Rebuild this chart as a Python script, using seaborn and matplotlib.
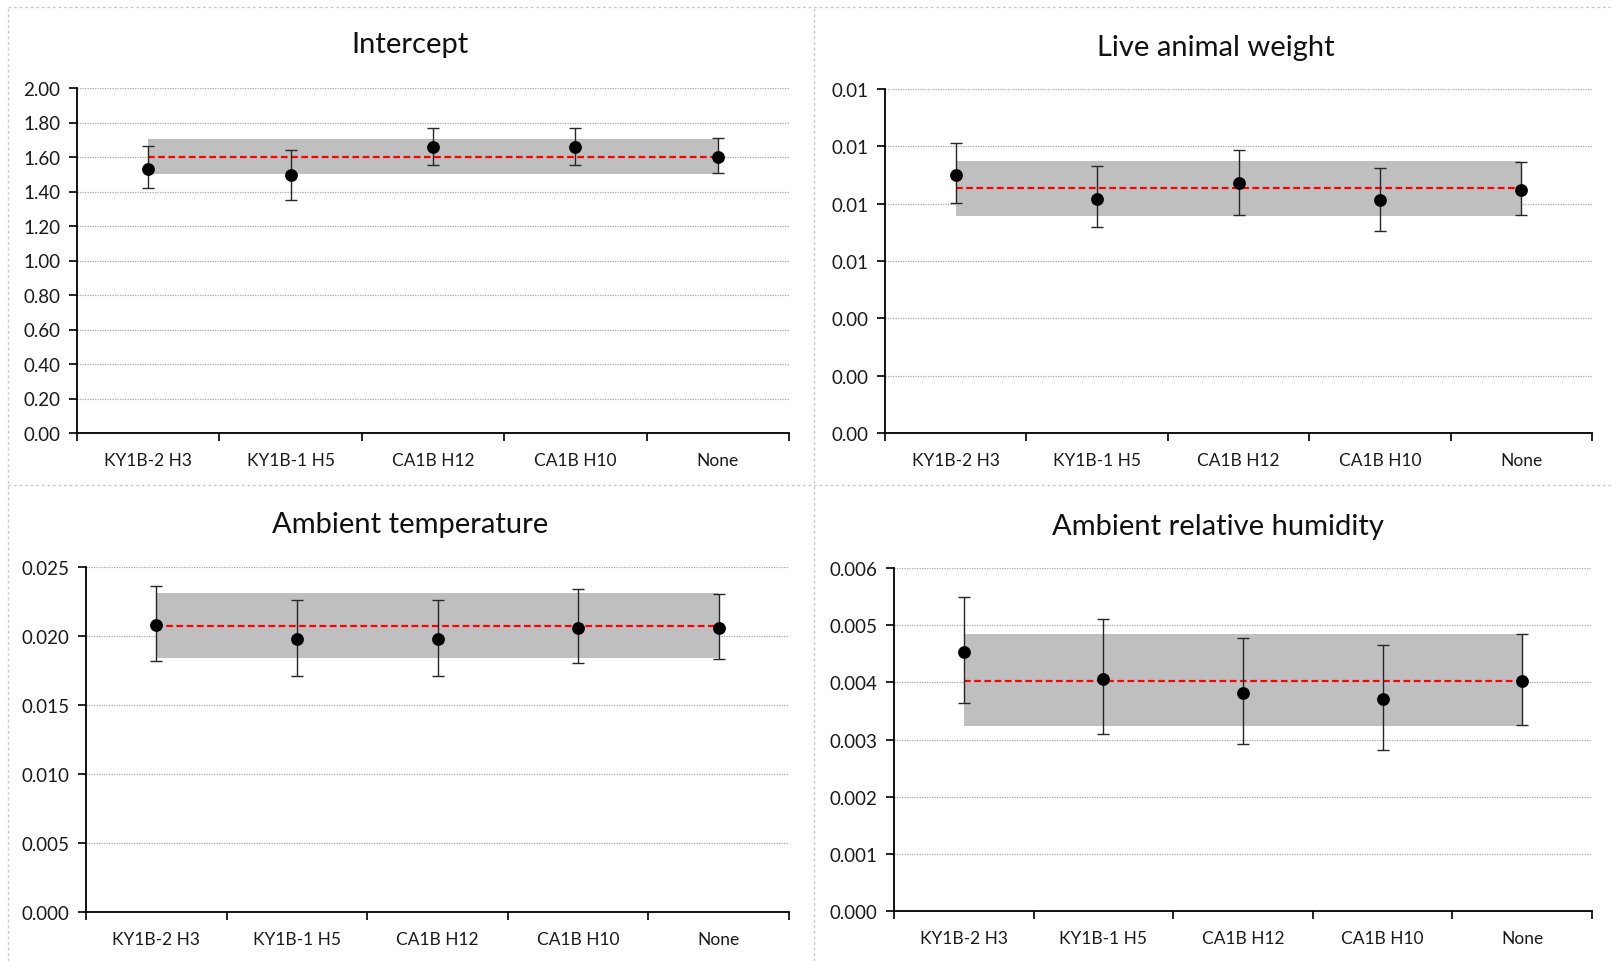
import matplotlib
matplotlib.use("Agg")
import matplotlib.pyplot as plt
import seaborn as sns
import numpy as np
import pandas as pd
from matplotlib.ticker import FormatStrFormatter, FixedLocator, MultipleLocator
from matplotlib.lines import Line2D

sns.set_theme(style="white")
plt.rcParams['font.family'] = ['Lato', 'DejaVu Sans']

categories = ["KY1B-2 H3", "KY1B-1 H5", "CA1B H12", "CA1B H10", "None"]

# Intercept
int_est = [1.533, 1.493, 1.659, 1.659, 1.601]
int_lo = [1.418, 1.350, 1.554, 1.554, 1.506]
int_hi = [1.663, 1.641, 1.769, 1.769, 1.709]
int_mean, int_band = 1.601, (1.502, 1.703)

# Live animal weight
wt_est = [0.00899, 0.00818, 0.00871, 0.00812, 0.00848]
wt_lo = [0.00802, 0.00719, 0.00760, 0.00703, 0.00760]
wt_hi = [0.01011, 0.00930, 0.00988, 0.00924, 0.00947]
wt_mean, wt_band = 0.00853, (0.00758, 0.00950)

# Ambient temperature
tp_est = [0.02083, 0.01975, 0.01975, 0.02059, 0.02059]
tp_lo = [0.01818, 0.01710, 0.01710, 0.01806, 0.01830]
tp_hi = [0.02365, 0.02259, 0.02259, 0.02341, 0.02305]
tp_mean, tp_band = 0.02071, (0.01840, 0.02310)

# Ambient relative humidity
rh_est = [0.00453, 0.00406, 0.00382, 0.00371, 0.00403]
rh_lo = [0.00363, 0.00310, 0.00293, 0.00281, 0.00325]
rh_hi = [0.00550, 0.00510, 0.00477, 0.00465, 0.00485]
rh_mean, rh_band = 0.00403, (0.00324, 0.00484)

panels = [
    ("Intercept", int_est, int_lo, int_hi, int_mean, int_band, (0, 2.0), 0.2, "%.2f"),
    ("Live animal weight", wt_est, wt_lo, wt_hi, wt_mean, wt_band, (0, 0.012), 0.002, "%.2f"),
    ("Ambient temperature", tp_est, tp_lo, tp_hi, tp_mean, tp_band, (0, 0.025), 0.005, "%.3f"),
    ("Ambient relative humidity", rh_est, rh_lo, rh_hi, rh_mean, rh_band, (0, 0.006), 0.001, "%.3f"),
]

W, H = 1611, 962
fig = plt.figure(figsize=(W / 100, H / 100), dpi=100)
fig.patch.set_facecolor("white")

# axes boxes in pixels: left, top, right, bottom
boxes = [
    (77, 89, 789, 434),
    (885, 90, 1592, 434),
    (86, 568, 789, 913),
    (894, 569, 1592, 912),
]
title_y = [45, 48, 525, 527]
title_x = [410, 1216, 410, 1218]

for (title, est, lo, hi, mean, band, ylim, step, fmt), (l, t, r, b), ty, tx in zip(panels, boxes, title_y, title_x):
    ax = fig.add_axes([l / W, 1 - b / H, (r - l) / W, (b - t) / H])
    df = pd.DataFrame({"cat": categories, "est": est, "lo": lo, "hi": hi})
    xpos = np.arange(len(categories))
    ax.fill_between([xpos[0], xpos[-1]], band[0], band[1], color="#bfbfbf", zorder=1, linewidth=0)
    ax.plot([xpos[0], xpos[-1]], [mean, mean], color="#ff0000", linestyle=(0, (3, 1.6)), linewidth=1.6, zorder=2)
    ax.errorbar(xpos, df["est"], yerr=[df["est"] - df["lo"], df["hi"] - df["est"]],
                fmt="none", ecolor="#262626", elinewidth=1.0, capsize=4, capthick=1.0, zorder=3)
    sns.scatterplot(data=df, x=xpos, y="est", ax=ax, color="black", s=85, edgecolor="black",
                    linewidth=0, zorder=4, legend=False)
    ax.set_xlim(-0.5, len(categories) - 0.5)
    ax.set_ylim(*ylim)
    ax.set_xticks(xpos)
    ax.set_xticklabels(categories)
    ax.xaxis.set_minor_locator(FixedLocator(np.arange(-0.5, len(categories), 1.0)))
    ax.yaxis.set_major_locator(MultipleLocator(step))
    ax.yaxis.set_major_formatter(FormatStrFormatter(fmt))
    ax.tick_params(axis="x", which="major", length=0, pad=14, labelsize=12.5, colors="#1a1a1a")
    ax.tick_params(axis="x", which="minor", length=6, width=1.2, color="black", direction="out", bottom=True)
    ax.tick_params(axis="y", which="major", length=6, width=1.2, color="black", direction="out", left=True,
                   labelsize=13.5, pad=6, labelcolor="#1a1a1a")
    ax.grid(axis="y", color="#a6a6a6", linestyle=(0, (1, 1)), linewidth=0.9)
    ax.set_axisbelow(True)
    for s in ["top", "right"]:
        ax.spines[s].set_visible(False)
    for s in ["left", "bottom"]:
        ax.spines[s].set_color("black")
        ax.spines[s].set_linewidth(1.3)
    ax.set_xlabel("")
    ax.set_ylabel("")
    fig.text(tx / W, 1 - ty / H, title, ha="center", va="center", fontsize=21, color="#111111")

# panel borders
bc = "#c8c8c8"
ls = (0, (2, 2))
for x in [8, 814]:
    fig.add_artist(Line2D([x / W, x / W], [0, 1 - 8 / H], transform=fig.transFigure, color=bc, lw=1, ls=ls))
for y in [8, 486]:
    fig.add_artist(Line2D([8 / W, 1], [1 - y / H, 1 - y / H], transform=fig.transFigure, color=bc, lw=1, ls=ls))

fig.savefig("out.png", dpi=100, facecolor="white")
